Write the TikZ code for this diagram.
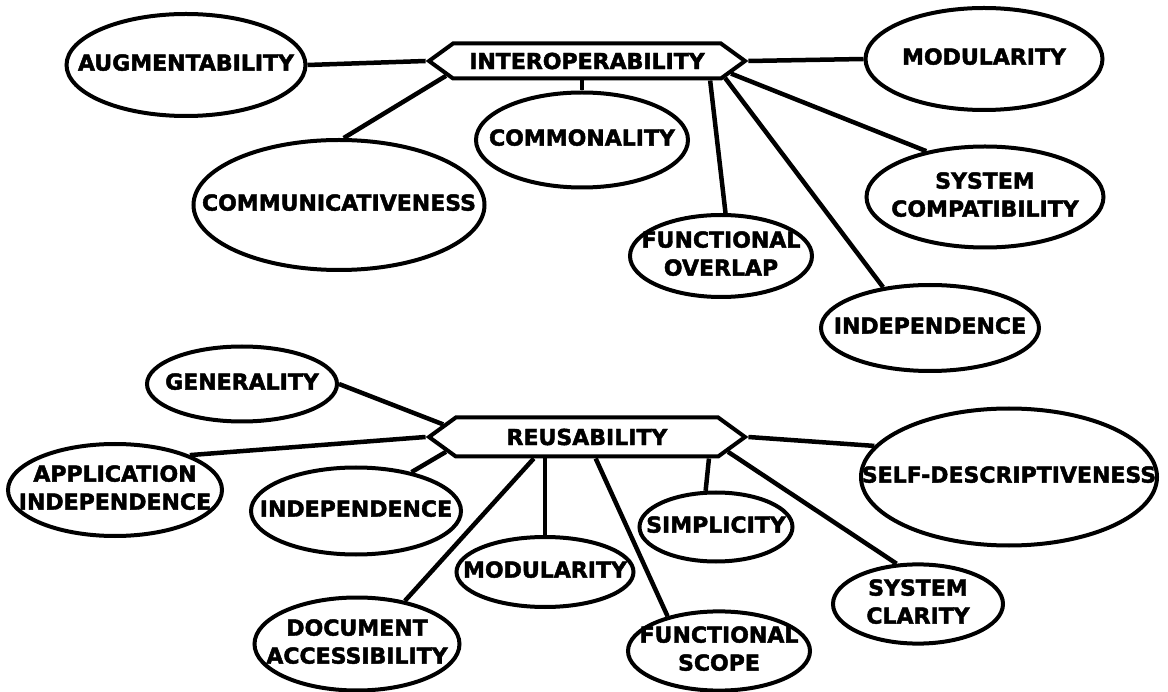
\documentclass[tikz,border=0pt]{standalone}
\usepackage{fontspec}
\newfontfamily\dejavu{DejaVu Sans}[BoldFeatures={FakeBold=2}]
\usepackage{tikz}
\usetikzlibrary{shapes.geometric,shapes.symbols}
\newcommand{\attrtext}[1]{\makebox[0pt]{\begin{tabular}{@{}c@{}}#1\end{tabular}}}

\begin{document}
\begin{tikzpicture}[x=1pt,y=-1pt,
		attr/.style={ellipse,draw,line width=4pt,inner sep=0pt,font=\dejavu\bfseries\fontsize{22}{28}\selectfont},
		factor/.style={signal,signal to=west and east,signal pointer angle=72,draw,fill=white,line width=4pt,minimum width=316pt,inner sep=0pt,font=\dejavu\bfseries\fontsize{22}{24}\selectfont},
		link/.style={line width=4.5pt}]
		\useasboundingbox (0,0) rectangle (1168,692);
		
		\node[factor,minimum height=35pt] (interop) at (587,61){INTEROPERABILITY};
		
		\node[attr,minimum width=239pt,minimum height=102pt] (augment) at (186,65){\attrtext{AUGMENTABILITY}};
		\node[attr,minimum width=237pt,minimum height=102pt] (modtop) at (984,59){\attrtext{MODULARITY}};
		\node[attr,minimum width=212pt,minimum height=95pt] (common) at (582,140){\attrtext{COMMONALITY}};
		\node[attr,minimum width=291pt,minimum height=130pt] (communic) at (339,205){\attrtext{COMMUNICATIVENESS}};
		\node[attr,minimum width=182pt,minimum height=82pt] (funcover) at (721,256){\attrtext{FUNCTIONAL\\OVERLAP}};
		\node[attr,minimum width=237pt,minimum height=101pt] (syscompat) at (985,197){\attrtext{SYSTEM\\COMPATIBILITY}};
		\node[attr,minimum width=218pt,minimum height=86pt] (indtop) at (930,328){\attrtext{INDEPENDENCE}};
		
		\draw[link] (interop.west) -- (augment.east);
		\draw[link] (interop.east) -- (modtop.west);
		\draw[link] (interop.south -| common.north) -- (common.north);
		\draw[link] (interop.186) -- (communic.86);
		\draw[link] (interop.351) -- (funcover.84);
		\draw[link] (interop.353) -- (indtop.139);
		\draw[link] (interop.355) -- (syscompat.142);
		
		\node[factor,minimum height=39pt] (reuse) at (587,437){REUSABILITY};
		
		\node[attr,minimum width=190pt,minimum height=75pt] (general) at (242,384){\attrtext{GENERALITY}};
		\node[attr,minimum width=214pt,minimum height=92pt] (appind) at (115,490){\attrtext{APPLICATION\\INDEPENDENCE}};
		\node[attr,minimum width=210pt,minimum height=87pt] (indbot) at (356,511){\attrtext{INDEPENDENCE}};
		\node[attr,minimum width=205pt,minimum height=93pt] (docacc) at (357,644){\attrtext{DOCUMENT\\ACCESSIBILITY}};
		\node[attr,minimum width=177pt,minimum height=70pt] (modbot) at (545,572){\attrtext{MODULARITY}};
		\node[attr,minimum width=182pt,minimum height=78pt] (funcscope) at (719,651){\attrtext{FUNCTIONAL\\SCOPE}};
		\node[attr,minimum width=153pt,minimum height=69pt] (simple) at (716,527){\attrtext{SIMPLICITY}};
		\node[attr,minimum width=170pt,minimum height=75pt] (sysclar) at (918,604){\attrtext{SYSTEM\\CLARITY}};
		\node[attr,minimum width=296pt,minimum height=137pt] (selfdesc) at (1009,477){\attrtext{SELF-DESCRIPTIVENESS}};
		
		\draw[link] (reuse.175) -- (general.east);
		\draw[link] (reuse.west) -- (appind.25);
		\draw[link] (reuse.186) -- (indbot.35);
		\draw[link] (reuse.202) -- (docacc.42);
		\draw[link] (reuse.south -| modbot.north) -- (modbot.north);
		\draw[link] (reuse.292) -- (funcscope.146);
		\draw[link] (reuse.350) -- (simple.106);
		\draw[link] (reuse.354) -- (sysclar.118);
		\draw[link] (reuse.east) -- (selfdesc.167);
\end{tikzpicture}
\end{document}
